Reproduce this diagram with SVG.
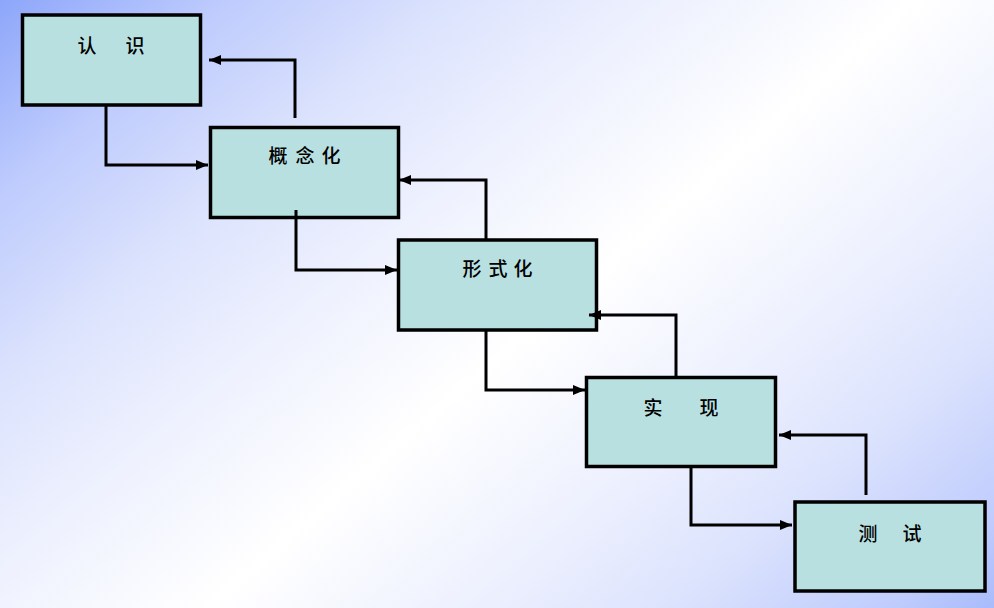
<svg xmlns="http://www.w3.org/2000/svg" width="994" height="608" viewBox="0 0 994 608">
  <defs>
    <linearGradient id="bg" gradientUnits="userSpaceOnUse" x1="171" y1="-152" x2="951" y2="760">
      <stop offset="0" stop-color="#8ca5fa"/>
      <stop offset="0.13" stop-color="#bfccfd"/>
      <stop offset="0.25" stop-color="#dce3fd"/>
      <stop offset="0.365" stop-color="#eef1fe"/>
      <stop offset="0.5" stop-color="#ffffff"/>
      <stop offset="0.635" stop-color="#eef1fe"/>
      <stop offset="0.75" stop-color="#dce3fd"/>
      <stop offset="0.87" stop-color="#bfccfd"/>
      <stop offset="1" stop-color="#8ca5fa"/>
    </linearGradient>
    <marker id="arrow" viewBox="0 0 12 10" refX="12" refY="5" markerWidth="12" markerHeight="10" markerUnits="userSpaceOnUse" orient="auto">
      <path d="M0,0 L12,5 L0,10 Z" fill="#000"/>
    </marker>
    <style>
      .box { fill: #b9e0e1; stroke: #000; stroke-width: 3.5; }
      .label { font-family: "Noto Sans CJK SC", "Noto Sans", sans-serif; font-size: 19px; font-weight: 500; fill: #000; text-anchor: middle; dominant-baseline: central; }
      .link { fill: none; stroke: #000; stroke-width: 3; marker-end: url(#arrow); }
    </style>
  </defs>

  <rect width="994" height="608" fill="url(#bg)"/>

  <!-- stages -->
  <g id="stage-recognize">
    <rect class="box" x="22.5" y="15" width="178" height="90"/>
    <text class="label" x="87 111 135" y="44">认 识</text>
  </g>
  <g id="stage-conceptualize">
    <rect class="box" x="210.5" y="127.5" width="188" height="90"/>
    <text class="label" x="278 305 331" y="154">概念化</text>
  </g>
  <g id="stage-formalize">
    <rect class="box" x="398.5" y="240" width="198" height="90"/>
    <text class="label" x="472 498 523" y="267">形式化</text>
  </g>
  <g id="stage-implement">
    <rect class="box" x="586.5" y="377.5" width="189" height="89"/>
    <text class="label" x="653 681 709" y="406">实 现</text>
  </g>
  <g id="stage-test">
    <rect class="box" x="795" y="502" width="190" height="89"/>
    <text class="label" x="868 890 912" y="532">测 试</text>
  </g>

  <!-- flow forward and feedback -->
  <g id="connectors">
    <path class="link" d="M106,105 V165 H208"/>
    <path class="link" d="M295,118 V60 H209"/>
    <path class="link" d="M296,210 V270 H397"/>
    <path class="link" d="M486,240 V180 H399"/>
    <path class="link" d="M486,330 V390 H585"/>
    <path class="link" d="M676,376 V315 H589"/>
    <path class="link" d="M691,467 V525 H792"/>
    <path class="link" d="M866,495 V435 H779"/>
  </g>
</svg>
